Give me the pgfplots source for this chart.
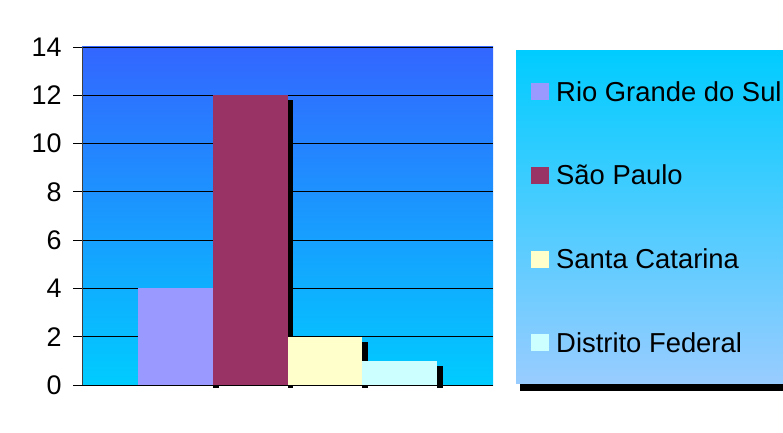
\documentclass[border=0pt]{standalone}
\usepackage{pgfplots}
\pgfplotsset{compat=1.18}
\usepackage{fontspec}
\setmainfont{Liberation Sans}
\definecolor{bgtop}{RGB}{51,102,255}
\definecolor{bgbot}{RGB}{0,204,255}
\definecolor{rgs}{RGB}{153,153,255}
\definecolor{sp}{RGB}{153,51,102}
\definecolor{sc}{RGB}{255,255,204}
\definecolor{df}{RGB}{204,255,255}
\definecolor{legtop}{RGB}{0,204,255}
\definecolor{legbot}{RGB}{153,204,255}
\begin{document}
\begin{tikzpicture}[x=1bp,y=1bp]
\useasboundingbox (0,0) rectangle (783,432);
\begin{axis}[
  at={(82bp,47bp)}, anchor=south west,
  scale only axis, width=411bp, height=338bp,
  xmin=-0.25, xmax=5.25, ymin=0, ymax=14,
  ytick={0,2,...,14}, xtick=\empty,
  ymajorgrids, grid style={black, line width=0.9pt},
  axis x line*=bottom, axis y line*=left,
  x axis line style={black, line width=1pt, -},
  y axis line style={black!75, line width=1pt, -},
  tick align=outside, major tick length=9bp,
  ytick style={black, line width=0.9pt},
  /pgf/number format/assume math mode=true,
  tick label style={font=\fontsize{27}{32}\selectfont},
  yticklabel style={xshift=-8bp},
  axis background/.style={top color=bgtop, bottom color=bgbot},
  clip=false,
  bar width=1, bar shift=0pt,
  legend style={name=leg, at={(1.0560,0.991)}, anchor=north west,
    top color=legtop, bottom color=legbot, draw=none,
    inner xsep=15bp, inner ysep=25bp,
    row sep=51.7bp, column sep=7bp,
    font=\fontsize{27.5}{33}\selectfont,
    nodes={inner sep=0pt, text height=26bp, text depth=6bp}},
  legend cell align=left,
  legend image code/.code={\fill[#1] (0bp,-9bp) rectangle (18bp,8bp);},
]
% shadows
\addplot[fill=black, draw=none, forget plot] coordinates {(1.5,-0.12) (1.58,-0.12) (1.58,3.8) (1.5,3.8)} -- cycle;
\addplot[fill=black, draw=none, forget plot] coordinates {(2.5,-0.12) (2.58,-0.12) (2.58,11.8) (2.5,11.8)} -- cycle;
\addplot[fill=black, draw=none, forget plot] coordinates {(3.5,-0.12) (3.58,-0.12) (3.58,1.8) (3.5,1.8)} -- cycle;
\addplot[fill=black, draw=none, forget plot] coordinates {(4.5,-0.12) (4.58,-0.12) (4.58,0.8) (4.5,0.8)} -- cycle;
% bars
\addplot[ybar, fill=rgs, draw=none] coordinates {(1,4)};
\addlegendentry{Rio Grande do Sul}
\addplot[ybar, fill=sp, draw=none] coordinates {(2,12)};
\addlegendentry{São Paulo}
\addplot[ybar, fill=sc, draw=none] coordinates {(3,2)};
\addlegendentry{Santa Catarina}
\addplot[ybar, fill=df, draw=none] coordinates {(4,1)};
\addlegendentry{Distrito Federal}
\end{axis}
\fill[black] ([xshift=4bp,yshift=-7bp]leg.south west) rectangle ([xshift=4bp]leg.south east);
\end{tikzpicture}
\end{document}
